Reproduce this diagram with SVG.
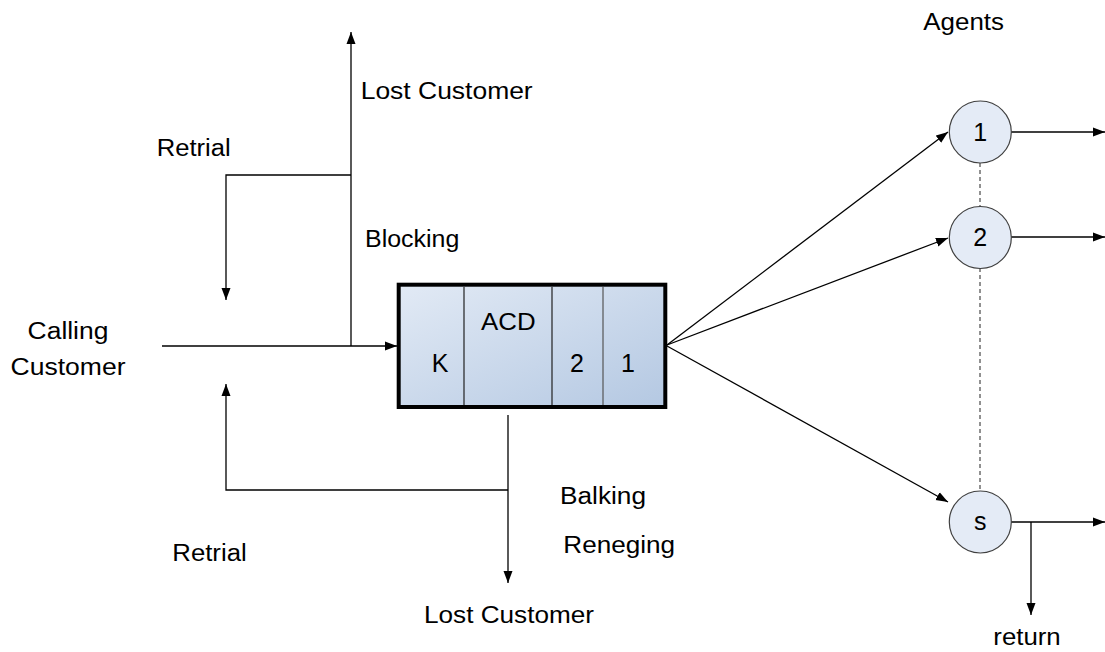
<svg xmlns="http://www.w3.org/2000/svg" width="1105" height="652" viewBox="0 0 1105 652">
<style>
text{font-family:"Liberation Sans",Arial,sans-serif;font-size:23.5px;fill:#000}
.ln{stroke:#000;stroke-width:1.3;fill:none}
.arr{marker-end:url(#ah)}
.ag{fill:#e4ebf6;stroke:#404040;stroke-width:1.2}
.dash{stroke:#222;stroke-width:1;stroke-dasharray:4,3;fill:none}
.big{font-size:25px}
</style>
<defs>
<marker id="ah" viewBox="0 0 12 10" refX="12" refY="5" markerWidth="12" markerHeight="10" markerUnits="userSpaceOnUse" orient="auto">
<path d="M0,0.5 L12,5 L0,9.5 z" fill="#000"/>
</marker>
<linearGradient id="bg" x1="0" y1="0" x2="1" y2="1">
<stop offset="0" stop-color="#e2eaf5"/>
<stop offset="1" stop-color="#b4c8e2"/>
</linearGradient>
</defs>
<g id="connectors">
<path class="ln arr" d="M162,346 H397"/>
<path class="ln arr" d="M351,346 V32"/>
<path class="ln arr" d="M351,175 H226 V300"/>
<path class="ln arr" d="M508,415 V583"/>
<path class="ln arr" d="M508,490 H226 V384"/>
<path class="ln arr" d="M667,345 L948,132"/>
<path class="ln arr" d="M667,345 L948,238"/>
<path class="ln arr" d="M667,346 L948,502"/>
<path class="ln arr" d="M1011,132 H1105"/>
<path class="ln arr" d="M1011,237 H1105"/>
<path class="ln arr" d="M1011,522 H1105"/>
<path class="ln arr" d="M1031,522 V615"/>
<path class="dash" d="M980,163 V207 M980,268 V491"/>
</g>
<g id="acd">
<rect x="398.7" y="284.7" width="266.6" height="122.3" fill="url(#bg)" stroke="#000" stroke-width="4"/>
<path d="M464,287 V405 M552,287 V405" stroke="#222" stroke-width="1.2"/>
<path d="M603,287 V405" stroke="#555" stroke-width="1.2"/>
<text class="big" x="440" y="372" text-anchor="middle">K</text>
<text x="481" y="330" textLength="54.6" lengthAdjust="spacingAndGlyphs">ACD</text>
<text class="big" x="577" y="372" text-anchor="middle">2</text>
<text class="big" x="628" y="372" text-anchor="middle">1</text>
</g>
<g id="agent1"><circle class="ag" cx="980.3" cy="132" r="31"/><text class="big" x="980.3" y="141" text-anchor="middle">1</text></g>
<g id="agent2"><circle class="ag" cx="980.3" cy="237.5" r="31"/><text class="big" x="980.3" y="246" text-anchor="middle">2</text></g>
<g id="agents"><circle class="ag" cx="980.3" cy="522" r="31"/><text class="big" x="980.3" y="530" text-anchor="middle">s</text></g>
<g id="labels">
<text x="923.3" y="30" textLength="80.7" lengthAdjust="spacingAndGlyphs">Agents</text>
<text x="360.7" y="99.3" textLength="172" lengthAdjust="spacingAndGlyphs">Lost Customer</text>
<text x="156.7" y="156" textLength="74" lengthAdjust="spacingAndGlyphs">Retrial</text>
<text x="365" y="246.7" textLength="94.3" lengthAdjust="spacingAndGlyphs">Blocking</text>
<text x="68" y="339" text-anchor="middle" textLength="80.8" lengthAdjust="spacingAndGlyphs">Calling</text>
<text x="68" y="375" text-anchor="middle" textLength="115" lengthAdjust="spacingAndGlyphs">Customer</text>
<text x="560" y="504" textLength="86" lengthAdjust="spacingAndGlyphs">Balking</text>
<text x="563.3" y="552.7" textLength="111.7" lengthAdjust="spacingAndGlyphs">Reneging</text>
<text x="172.3" y="560.7" textLength="74.4" lengthAdjust="spacingAndGlyphs">Retrial</text>
<text x="424" y="623.3" textLength="170" lengthAdjust="spacingAndGlyphs">Lost Customer</text>
<text x="993.3" y="645" textLength="67.4" lengthAdjust="spacingAndGlyphs">return</text>
</g>
</svg>
